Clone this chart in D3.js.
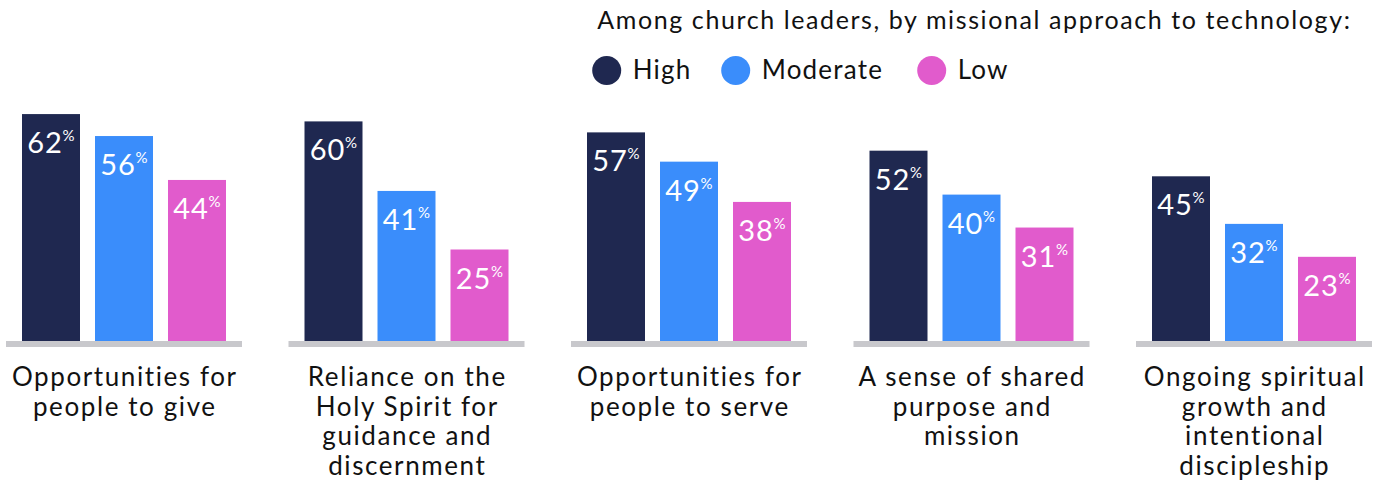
<!DOCTYPE html>
<html>
<head>
<meta charset="utf-8">
<script src="https://cdn.jsdelivr.net/npm/d3@7"></script>
<style>
  html, body { margin: 0; padding: 0; background: #ffffff; }
  svg { display: block; font-family: "Lato", "Noto Sans", sans-serif; }
</style>
</head>
<body>
<svg id="chart" width="1385" height="482"></svg>
<script>
// Share of church leaders, by missional approach to technology
const categories = [
  "Opportunities for people to give",
  "Reliance on the Holy Spirit for guidance and discernment",
  "Opportunities for people to serve",
  "A sense of shared purpose and mission",
  "Ongoing spiritual growth and intentional discipleship"
];
const categoryLines = [
  ["Opportunities for", "people to give"],
  ["Reliance on the", "Holy Spirit for", "guidance and", "discernment"],
  ["Opportunities for", "people to serve"],
  ["A sense of shared", "purpose and", "mission"],
  ["Ongoing spiritual", "growth and", "intentional", "discipleship"]
];
const seriesNames = ["High", "Moderate", "Low"];
const high     = [62, 60, 57, 52, 45];
const moderate = [56, 41, 49, 40, 32];
const low      = [44, 25, 38, 31, 23];
const seriesColors = ["#1f2850", "#3a8dfb", "#e15bcc"];
const legendTitle = "Among church leaders, by missional approach to technology:";

const values = [high, moderate, low];
const rows = categories.map((c, i) => ({
  category: c,
  lines: categoryLines[i],
  bars: seriesNames.map((s, j) => ({ series: s, value: values[j][i] }))
}));

const svg = d3.select("#chart");
const baseY = 341;

const x0 = d3.scaleBand()
  .domain(categories)
  .range([6, 1372])
  .paddingInner(46.5 / 282.5)
  .paddingOuter(0);

const x1 = d3.scaleBand()
  .domain(seriesNames)
  .range([0, x0.bandwidth()])
  .paddingInner(15 / 73)
  .paddingOuter(16 / 73);

const y = d3.scaleLinear().domain([0, 100]).range([baseY, baseY - 366]);
const color = d3.scaleOrdinal().domain(seriesNames).range(seriesColors);

const groups = svg.append("g").selectAll("g")
  .data(rows)
  .join("g")
  .attr("transform", d => `translate(${x0(d.category)},0)`);

// bars
groups.selectAll("rect.bar")
  .data(d => d.bars)
  .join("rect")
  .attr("class", "bar")
  .attr("x", d => x1(d.series))
  .attr("y", d => y(d.value))
  .attr("width", x1.bandwidth())
  .attr("height", d => y(0) - y(d.value))
  .attr("fill", d => color(d.series));

// value labels: number with a raised percent sign
const labels = groups.selectAll("text.val")
  .data(d => d.bars)
  .join("text")
  .attr("class", "val")
  .attr("x", d => x1(d.series) + x1.bandwidth() / 2)
  .attr("y", d => y(d.value) + 39)
  .attr("text-anchor", "middle")
  .attr("fill", "#ffffff");
labels.append("tspan")
  .attr("font-size", 29)
  .attr("letter-spacing", 0.8)
  .text(d => d.value);
labels.append("tspan")
  .attr("font-size", 15)
  .attr("dy", -12)
  .text("%");

// baseline under each group
groups.append("rect")
  .attr("x", 0)
  .attr("y", baseY)
  .attr("width", x0.bandwidth())
  .attr("height", 6)
  .attr("fill", "#c8c8cc");

// category labels
groups.append("text")
  .attr("text-anchor", "middle")
  .attr("font-size", 26)
  .attr("letter-spacing", 1.6)
  .attr("fill", "#111111")
  .selectAll("tspan")
  .data(d => d.lines)
  .join("tspan")
  .attr("x", x0.bandwidth() / 2 + 0.8)
  .attr("y", (d, i) => 386 + i * 29.7)
  .text(d => d);

// legend
svg.append("text")
  .attr("x", 1351.5)
  .attr("y", 29)
  .attr("text-anchor", "end")
  .attr("font-size", 25)
  .attr("letter-spacing", 1.6)
  .attr("fill", "#111111")
  .text(legendTitle);

const legendX = [606.7, 735.7, 931.7];
const legend = svg.append("g").selectAll("g")
  .data(seriesNames)
  .join("g")
  .attr("transform", (d, i) => `translate(${legendX[i]},70.5)`);
legend.append("circle").attr("r", 14.5).attr("fill", d => color(d));
legend.append("text")
  .attr("x", 26)
  .attr("y", 8.5)
  .attr("font-size", 26)
  .attr("letter-spacing", 1.2)
  .attr("fill", "#111111")
  .text(d => d);
</script>
</body>
</html>
